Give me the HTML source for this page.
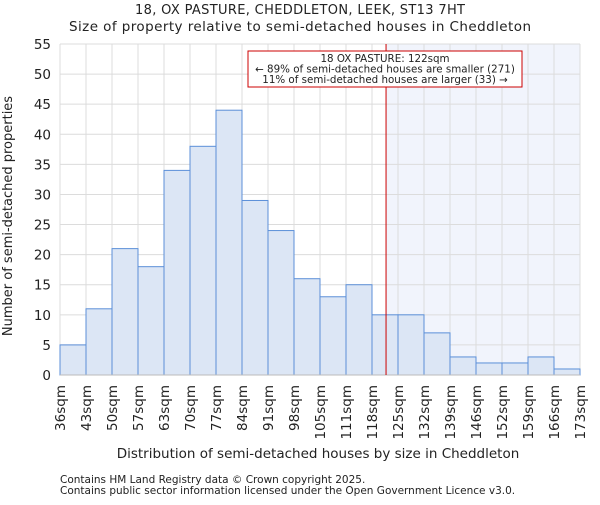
<!DOCTYPE html>
<html><head><meta charset="utf-8"><style>
body{margin:0;background:#fff}
svg text{font-family:"DejaVu Sans","Liberation Sans",sans-serif;fill:#222}
</style></head><body>
<svg id="c" width="600" height="500" xmlns="http://www.w3.org/2000/svg">
<text x="300" y="14" font-size="13" text-anchor="middle" textLength="330">18, OX PASTURE, CHEDDLETON, LEEK, ST13 7HT</text>
<text x="300" y="31" font-size="13.5" text-anchor="middle" textLength="462">Size of property relative to semi-detached houses in Cheddleton</text>
<g id="plot"></g>
<text x="318" y="458" font-size="13.5" text-anchor="middle">Distribution of semi-detached houses by size in Cheddleton</text>
<text transform="translate(12,216) rotate(-90)" font-size="13" text-anchor="middle">Number of semi-detached properties</text>
<text x="60" y="483" font-size="10.5" fill="#444">Contains HM Land Registry data © Crown copyright 2025.</text>
<text x="60" y="494" font-size="10.5" fill="#444">Contains public sector information licensed under the Open Government Licence v3.0.</text>
</svg>
<script>
const binLabels=["36sqm","43sqm","50sqm","57sqm","63sqm","70sqm","77sqm","84sqm","91sqm","98sqm","105sqm","111sqm","118sqm","125sqm","132sqm","139sqm","146sqm","152sqm","159sqm","166sqm","173sqm"];
const counts=[5,11,21,18,34,38,44,29,24,16,13,15,10,10,7,3,2,2,3,1];
const yTicks=[0,5,10,15,20,25,30,35,40,45,50,55];
const markerBin=12.54;
const NS="http://www.w3.org/2000/svg";
const g=document.getElementById('plot');
const X0=60,X1=580,Y0=375,Y1=44,YMAX=55;
const bw=(X1-X0)/counts.length;
const xs=i=>X0+i*bw;
const ys=v=>Y0-(v/YMAX)*(Y0-Y1);
function mk(t,a){const e=document.createElementNS(NS,t);for(const k in a)e.setAttribute(k,a[k]);g.appendChild(e);return e;}
let e;
const mx=xs(markerBin);
e=mk('rect',{x:mx,y:Y1,width:X1-mx,height:Y0-Y1,fill:'#f1f4fc'});


for(let i=0;i<binLabels.length;i++){
 e=mk('line',{x1:xs(i),x2:xs(i),y1:Y1,y2:Y0,stroke:'#dcdcdc','stroke-width':1});
 
 
}
yTicks.forEach(v=>{
 e=mk('line',{x1:X0,x2:X1,y1:ys(v),y2:ys(v),stroke:'#dcdcdc','stroke-width':1});
 
 
 e=mk('text',{x:X0-9,y:ys(v)+5,'font-size':13.5,'text-anchor':'end'});e.textContent=v;
 
 
});
counts.forEach((c,i)=>{
 e=mk('rect',{x:xs(i),y:ys(c),width:bw,height:Y0-ys(c),fill:'#dce6f5',stroke:'#5b8fd8','stroke-width':1});
 
 
});
binLabels.forEach((l,i)=>{
 e=mk('text',{transform:`translate(${xs(i)+5},385) rotate(-90)`,'font-size':13.5,'text-anchor':'end'});e.textContent=l;
 
 
});
e=mk('line',{x1:X0,x2:X1,y1:Y0,y2:Y0,stroke:'#bbb','stroke-width':1});


e=mk('line',{x1:mx,x2:mx,y1:Y1,y2:Y0,stroke:'#cc0000','stroke-width':1});


e=mk('rect',{x:248,y:51,width:274,height:36,fill:'#fff',stroke:'#cc0000','stroke-width':1});


const ann=["18 OX PASTURE: 122sqm","← 89% of semi-detached houses are smaller (271)","11% of semi-detached houses are larger (33) →"];
ann.forEach((t,i)=>{
 e=mk('text',{x:385,y:62+i*10.5,'font-size':10.3,'text-anchor':'middle'});e.textContent=t;
 
 
});
</script>
</body></html>
